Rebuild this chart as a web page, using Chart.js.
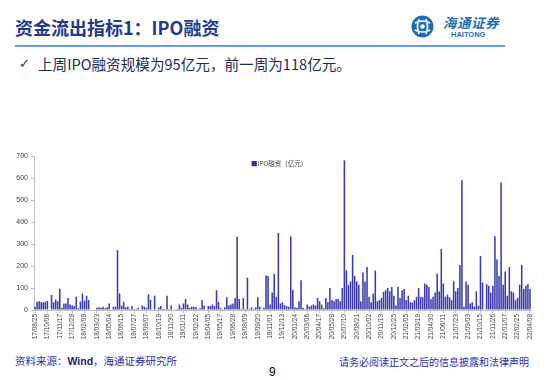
<!DOCTYPE html>
<html><head><meta charset="utf-8">
<script src="https://cdn.jsdelivr.net/npm/chart.js@4.4.0/dist/chart.umd.min.js"></script>
<style>
html,body{margin:0;padding:0;background:#fff;}
body{width:550px;height:380px;position:relative;overflow:hidden;font-family:"Noto Sans CJK SC","Noto Sans",sans-serif;}
.abs{position:absolute;white-space:nowrap;}
#title{left:15px;top:16px;font-size:18px;font-weight:bold;color:#1F3A8F;line-height:22px;}
#rule{left:15px;top:45px;width:490px;height:2px;background:#6A9FD2;}
#check{left:19px;top:55px;font-size:13px;color:#1F2A5C;font-family:"DejaVu Sans";line-height:18px;}
#sub{left:38px;top:55px;font-size:14.6px;color:#1F2A5C;line-height:18px;}
#chartbox{left:0;top:140px;width:550px;height:205px;}
#legend{left:251px;top:159px;font-size:6.5px;color:#404040;line-height:9px;}
#legend span{color:#2E2EA8;}
#src{left:15px;top:354px;font-size:10.5px;color:#2B2BB5;line-height:14px;}
#src b{font-family:"Liberation Sans";color:#1a1a6a;}
#note{left:339px;top:355px;font-size:10px;color:#2B2BB5;line-height:14px;}
#page{left:269px;top:364px;font-size:12px;color:#000;line-height:16px;font-family:"Liberation Sans";}
#logoText{left:443px;top:14px;font-size:13.5px;font-weight:bold;font-style:italic;color:#1E6EB5;line-height:16px;letter-spacing:0.5px;}
#logoEn{left:451px;top:30px;font-size:7.5px;font-weight:bold;color:#1E6EB5;line-height:9px;font-family:"Liberation Sans";}
</style></head>
<body>
<div class="abs" id="title">资金流出指标1：IPO融资</div>
<svg class="abs" style="left:411px;top:15px" width="23" height="23" viewBox="0 0 23 23">
  <circle cx="11.5" cy="11.5" r="11" fill="#1E6EB5"/>
  <path d="M4 8 Q11.5 4 19 8 M4 15 Q11.5 19 19 15 M8 4 Q5 11.5 8 19 M15 4 Q18 11.5 15 19" stroke="#fff" stroke-width="1.6" fill="none"/>
  <circle cx="11.5" cy="11.5" r="2.2" fill="#fff"/>
</svg>
<div class="abs" id="logoText">海通证券</div>
<div class="abs" id="logoEn">HAITONG</div>
<div class="abs" id="rule"></div>
<div class="abs" id="check">✓</div>
<div class="abs" id="sub">上周IPO融资规模为95亿元，前一周为118亿元。</div>
<div class="abs" id="chartbox"><canvas id="c" width="550" height="205"></canvas></div>
<div class="abs" id="legend"><span>■</span>IPO融资（亿元）</div>
<div class="abs" id="src">资料来源：<b>Wind</b>，海通证券研究所</div>
<div class="abs" id="page">9</div>
<div class="abs" id="note">请务必阅读正文之后的信息披露和法律声明</div>
<script>
// Weekly IPO financing (亿元), 17/08/25 .. 22/04/08
const ipoFunding = [
 15, 38, 40, 35, 35, 38, 42, 0, 68, 35,
 48, 40, 97, 10, 28, 30, 55, 25, 22, 18,
 60, 8, 38, 75, 42, 65, 45, 0, 0, 0,
 10, 12, 10, 15, 8, 12, 30, 0, 15, 15,
 272, 75, 20, 37, 12, 15, 5, 18, 5, 5,
 10, 0, 20, 15, 10, 72, 45, 0, 65, 0,
 12, 18, 5, 5, 65, 5, 20, 0, 3, 5,
 25, 10, 30, 50, 25, 10, 15, 15, 12, 5,
 8, 45, 20, 0, 18, 18, 25, 18, 90, 37,
 8, 4, 12, 58, 20, 25, 30, 55, 333, 50,
 5, 55, 5, 147, 5, 12, 5, 12, 58, 15,
 0, 10, 157, 155, 25, 80, 163, 60, 350, 30,
 35, 22, 18, 15, 335, 92, 12, 10, 40, 135,
 10, 5, 25, 15, 20, 25, 20, 55, 40, 25,
 8, 55, 35, 100, 45, 40, 50, 50, 40, 100,
 680, 180, 115, 130, 250, 155, 130, 115, 40, 170,
 130, 195, 60, 35, 75, 180, 40, 45, 55, 82,
 90, 100, 85, 105, 65, 20, 105, 55, 90, 95,
 45, 65, 35, 35, 45, 60, 100, 60, 58, 120,
 115, 105, 50, 60, 80, 165, 85, 277, 120, 60,
 70, 58, 45, 130, 85, 100, 205, 590, 15, 130,
 115, 30, 35, 15, 85, 20, 245, 125, 0, 117,
 110, 80, 110, 335, 230, 155, 580, 115, 175, 65,
 195, 85, 80, 45, 55, 115, 205, 95, 110, 118,
 95
];
const tickLabels = ['17/08/25','17/10/06','17/11/17','17/12/29','18/02/09','18/03/23','18/05/04','18/06/15','18/07/27','18/09/07','18/10/19','18/11/30','19/01/11','19/02/22','19/04/05','19/05/17','19/06/28','19/08/09','19/09/20','19/11/01','19/12/13','20/01/24','20/03/06','20/04/17','20/05/29','20/07/10','20/08/21','20/10/02','20/11/13','20/12/25','21/02/05','21/03/19','21/04/30','21/06/11','21/07/23','21/09/03','21/10/15','21/11/26','22/01/07','22/02/25','22/04/08'];
const skippedWeeks = ['22/02/04'];
const yTicks = [0,100,200,300,400,500,600,700];

const categories = [];
let t = Date.UTC(2017, 7, 25);
while (categories.length < ipoFunding.length) {
  const dt = new Date(t);
  const s = String(dt.getUTCFullYear()).slice(2) + '/' + String(dt.getUTCMonth()+1).padStart(2,'0') + '/' + String(dt.getUTCDate()).padStart(2,'0');
  if (!skippedWeeks.includes(s)) categories.push(s);
  t += 7*86400000;
}
const tickSet = new Set(tickLabels);

new Chart(document.getElementById('c'), {
  type: 'bar',
  data: { labels: categories, datasets: [{ label: 'IPO融资（亿元）', data: ipoFunding, backgroundColor: '#3A3AAE', borderWidth: 0, barPercentage: 0.75, categoryPercentage: 1 }] },
  options: {
    responsive: false, animation: false,
    layout: { padding: { left: 0, right: 19, top: 16, bottom: 0 } },
    plugins: { legend: { display: false }, tooltip: { enabled: false } },
    scales: {
      x: {
        offset: true,
        grid: { display: true, drawOnChartArea: false, tickLength: 3, color: '#BFBFBF', offset: false },
        border: { display: true, color: '#BFBFBF', width: 1 },
        ticks: {
          autoSkip: false, maxRotation: 90, minRotation: 90, padding: 1,
          font: { family: 'Liberation Sans', size: 6.5 }, color: '#404040',
          callback: function(v, i) { const l = this.getLabelForValue(v); return tickSet.has(l) ? l : null; }
        },
        afterFit: s => { s.height = 35; }
      },
      y: {
        min: 0, max: 700,
        afterBuildTicks: s => { s.ticks = yTicks.map(v => ({ value: v })); },
        grid: { display: true, drawOnChartArea: false, tickLength: 3, color: '#BFBFBF' },
        border: { display: true, color: '#BFBFBF', width: 1 },
        ticks: { padding: 3, font: { family: 'Liberation Sans', size: 7 }, color: '#404040' },
        afterFit: s => { s.width = 34; }
      }
    }
  }
});
</script>
</body></html>
